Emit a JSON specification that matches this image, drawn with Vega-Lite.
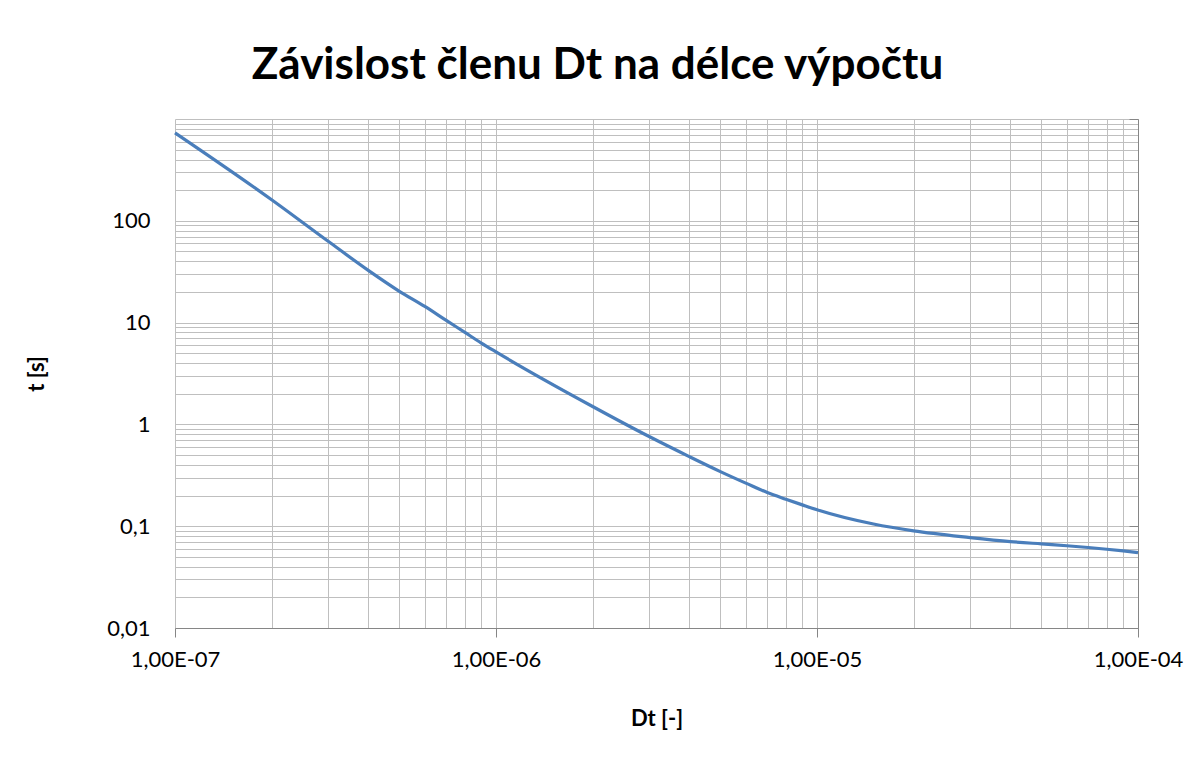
{
  "$schema": "https://vega.github.io/schema/vega-lite/v6.json",
  "width": 963,
  "height": 509,
  "autosize": "none",
  "padding": {"left": 175, "top": 119, "right": 66, "bottom": 132},
  "background": "white",
  "config": {"view": {"stroke": null}, "font": "Lato"},
  "title": {
    "text": "Závislost členu Dt na délce výpočtu",
    "fontSize": 44,
    "fontWeight": "bold",
    "color": "#000000",
    "anchor": "middle",
    "frame": "group",
    "dx": -59,
    "offset": 31
  },
  "data": {
    "values": [
      {"Dt": 1e-7, "t": 731},
      {"Dt": 2e-7, "t": 161},
      {"Dt": 3e-7, "t": 62.9},
      {"Dt": 4e-7, "t": 32.6},
      {"Dt": 5e-7, "t": 20.3},
      {"Dt": 6e-7, "t": 14.4},
      {"Dt": 7e-7, "t": 10.5},
      {"Dt": 8e-7, "t": 8.01},
      {"Dt": 9e-7, "t": 6.3},
      {"Dt": 1e-6, "t": 5.15},
      {"Dt": 2e-6, "t": 1.5},
      {"Dt": 3e-6, "t": 0.76},
      {"Dt": 4e-6, "t": 0.483},
      {"Dt": 5e-6, "t": 0.344},
      {"Dt": 6e-6, "t": 0.265},
      {"Dt": 7e-6, "t": 0.214},
      {"Dt": 8e-6, "t": 0.184},
      {"Dt": 9e-6, "t": 0.162},
      {"Dt": 1e-5, "t": 0.145},
      {"Dt": 1.5e-5, "t": 0.105},
      {"Dt": 2e-5, "t": 0.0899},
      {"Dt": 3e-5, "t": 0.0773},
      {"Dt": 4e-5, "t": 0.0706},
      {"Dt": 5e-5, "t": 0.067},
      {"Dt": 6e-5, "t": 0.0643},
      {"Dt": 7e-5, "t": 0.0618},
      {"Dt": 8e-5, "t": 0.0594},
      {"Dt": 9e-5, "t": 0.0572},
      {"Dt": 1e-4, "t": 0.055}
    ]
  },
  "resolve": {"axis": {"x": "independent", "y": "independent"}},
  "layer": [
    {
      "mark": {"type": "line", "strokeOpacity": 0},
      "encoding": {
        "x": {
          "field": "Dt", "type": "quantitative",
          "scale": {"type": "log", "domain": [1e-7, 1e-4], "nice": false},
          "axis": {
            "orient": "bottom", "title": null, "labels": false, "ticks": false, "domain": false,
            "grid": true, "gridColor": "#bfbfbf", "gridWidth": 1, "gridOpacity": 1,
            "values": [1e-7, 2e-7, 3e-7, 4e-7, 5e-7, 6e-7, 7e-7, 8e-7, 9e-7, 1e-6, 2e-6, 3e-6, 4e-6, 5e-6, 6e-6, 7e-6, 8e-6, 9e-6, 1e-5, 2e-5, 3e-5, 4e-5, 5e-5, 6e-5, 7e-5, 8e-5, 9e-5, 1e-4]
          }
        },
        "y": {
          "field": "t", "type": "quantitative",
          "scale": {"type": "log", "domain": [0.01, 1000], "nice": false},
          "axis": {
            "orient": "left", "title": null, "labels": false, "ticks": false, "domain": false,
            "grid": true, "gridColor": "#bfbfbf", "gridWidth": 1, "gridOpacity": 1,
            "values": [0.01, 0.02, 0.03, 0.04, 0.05, 0.06, 0.07, 0.08, 0.09, 0.1, 0.2, 0.3, 0.4, 0.5, 0.6, 0.7, 0.8, 0.9, 1, 2, 3, 4, 5, 6, 7, 8, 9, 10, 20, 30, 40, 50, 60, 70, 80, 90, 100, 200, 300, 400, 500, 600, 700, 800, 900, 1000]
          }
        }
      }
    },
    {
      "mark": {"type": "line", "strokeOpacity": 0},
      "encoding": {
        "x": {
          "field": "Dt", "type": "quantitative",
          "scale": {"type": "log", "domain": [1e-7, 1e-4], "nice": false},
          "axis": {
            "orient": "bottom", "grid": false,
            "values": [1e-7, 1e-6, 1e-5, 1e-4],
            "labelExpr": "'1,00E-0' + round(-log(datum.value) / LN10)",
            "labelFont": "Lato", "labelFontSize": 22, "labelColor": "#000000",
            "labelPadding": 12, "labelFlush": false, "labelOverlap": false,
            "ticks": true, "tickSize": 9, "tickColor": "#868686", "tickWidth": 1,
            "domain": true, "domainColor": "#868686", "domainWidth": 1,
            "title": "Dt [-]", "titleFont": "Lato", "titleFontSize": 22, "titleFontWeight": "bold",
            "titleColor": "#000000", "titlePadding": 38
          }
        },
        "y": {
          "field": "t", "type": "quantitative",
          "scale": {"type": "log", "domain": [0.01, 1000], "nice": false},
          "axis": {
            "orient": "left", "grid": false,
            "values": [0.01, 0.1, 1, 10, 100],
            "format": "~g",
            "labelExpr": "replace(datum.label, '.', ',')",
            "labelFont": "Lato", "labelFontSize": 22, "labelColor": "#000000",
            "labelPadding": 25, "labelFlush": false, "labelOverlap": false,
            "ticks": false, "domain": false,
            "title": "t [s]", "titleFont": "Lato", "titleFontSize": 22, "titleFontWeight": "bold",
            "titleColor": "#000000", "titlePadding": 58
          }
        }
      }
    },
    {
      "mark": {"type": "line", "color": "#4A7EBB", "strokeWidth": 3.2, "interpolate": "monotone"},
      "encoding": {
        "x": {
          "field": "Dt", "type": "quantitative",
          "scale": {"type": "log", "domain": [1e-7, 1e-4], "nice": false},
          "axis": null
        },
        "y": {
          "field": "t", "type": "quantitative",
          "scale": {"type": "log", "domain": [0.01, 1000], "nice": false},
          "axis": {
            "orient": "right", "grid": false, "labels": false, "title": null,
            "values": [0.01, 0.1, 1, 10, 100, 1000],
            "ticks": true, "tickSize": -9, "tickColor": "#868686", "tickWidth": 1,
            "domain": true, "domainColor": "#868686", "domainWidth": 1
          }
        }
      }
    }
  ]
}
